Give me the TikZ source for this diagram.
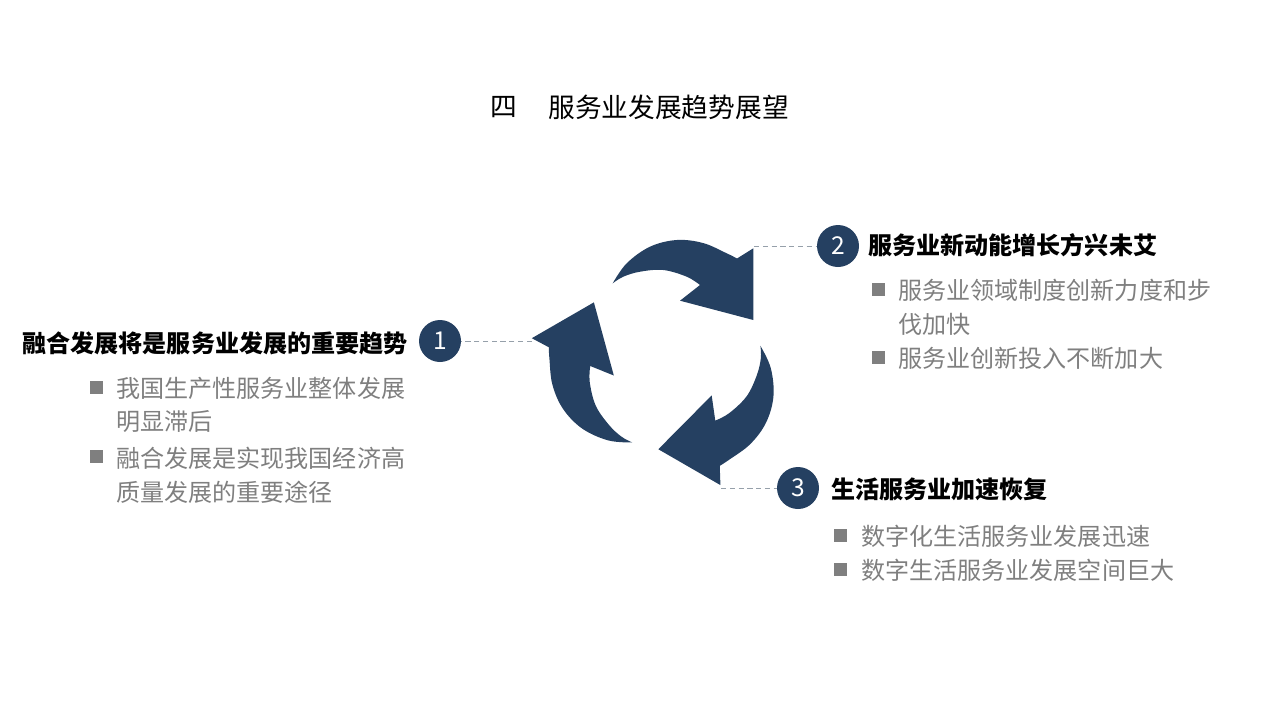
\documentclass[tikz,border=0pt]{standalone}
\usepackage{fontspec}
\setmainfont{Noto Sans CJK SC}
\usetikzlibrary{positioning}
\definecolor{cyclenavy}{RGB}{37,64,97}
\definecolor{bulletgray}{RGB}{127,127,127}
\definecolor{linkgray}{RGB}{150,160,170}

\begin{document}
\begin{tikzpicture}[x=0.02cm,y=-0.02cm,
  badge/.style={circle,fill=cyclenavy,text=white,minimum size=42*0.02cm,inner sep=0pt,font=\fontsize{14}{16}\selectfont},
  headtext/.style={inner sep=0pt,font=\fontsize{13.7}{16}\selectfont\bfseries},
  itemtext/.style={inner sep=0pt,anchor=west,text=bulletgray,font=\fontsize{13.7}{16}\selectfont},
  itemsq/.style={fill=bulletgray,minimum size=13*0.02cm,inner sep=0pt},
  link/.style={linkgray,densely dashed,very thin}]
\useasboundingbox (0,0) rectangle (1280,720);

% title
\node[inner sep=0pt,anchor=west,font=\fontsize{15.2}{18}\selectfont] (tnum) at (490,107) {四};
\node[inner sep=0pt,anchor=west,font=\fontsize{15.2}{18}\selectfont] (ttext) at (548,107) {服务业发展趋势展望};

% three arrows of the cycle
\foreach \ang in {0,120,240}{
\begin{scope}[rotate around={\ang:(668.5,357.2)}]
\fill[cyclenavy] plot[smooth,tension=.6] coordinates {(612.7,283.3) (626.7,263.3) (650,246.7) (676.7,240) (703,243) (726.7,253.3) (737,258.5)}
  -- (753.3,248.3) -- (753.3,320) -- (680,300.7) -- (700,285)
  -- plot[smooth,tension=.6] coordinates {(700,285) (686.7,276.7) (663.3,270) (640,271.7) (623.3,276.7) (612.7,283.3)}
  -- cycle;
\end{scope}
}
\coordinate (a1) at (532,341);
\coordinate (a2) at (754,246);
\coordinate (a3) at (721,488);

% badges
\node[badge] (n1) at (440,341) {1};
\node[badge] (n2) at (838,246) {2};
\node[badge] (n3) at (798,488) {3};
\draw[link] (a1) -- (n1);
\draw[link] (a2) -- (n2);
\draw[link] (a3) -- (n3);

% part 1
\node[headtext,anchor=east] (h1) at (408,343) {融合发展将是服务业发展的重要趋势};
\node[itemsq] (s11) at (96.5,387) {};
\node[itemsq] (s12) at (96.5,456) {};
\node[itemtext] (l11) at (116,388) {我国生产性服务业整体发展};
\node[itemtext] (l12) at (116,422) {明显滞后};
\node[itemtext] (l13) at (116,458) {融合发展是实现我国经济高};
\node[itemtext] (l14) at (116,492) {质量发展的重要途径};

% part 2
\node[headtext,anchor=west] (h2) at (868,245) {服务业新动能增长方兴未艾};
\node[itemsq] (s21) at (878.5,289) {};
\node[itemsq] (s22) at (878.5,357) {};
\node[itemtext] (l21) at (898,290) {服务业领域制度创新力度和步};
\node[itemtext] (l22) at (898,324) {伐加快};
\node[itemtext] (l23) at (898,358) {服务业创新投入不断加大};

% part 3
\node[headtext,anchor=west] (h3) at (831,489) {生活服务业加速恢复};
\node[itemsq] (s31) at (840.5,535) {};
\node[itemsq] (s32) at (840.5,569) {};
\node[itemtext] (l31) at (861,536) {数字化生活服务业发展迅速};
\node[itemtext] (l32) at (861,570) {数字生活服务业发展空间巨大};
\end{tikzpicture}
\end{document}
